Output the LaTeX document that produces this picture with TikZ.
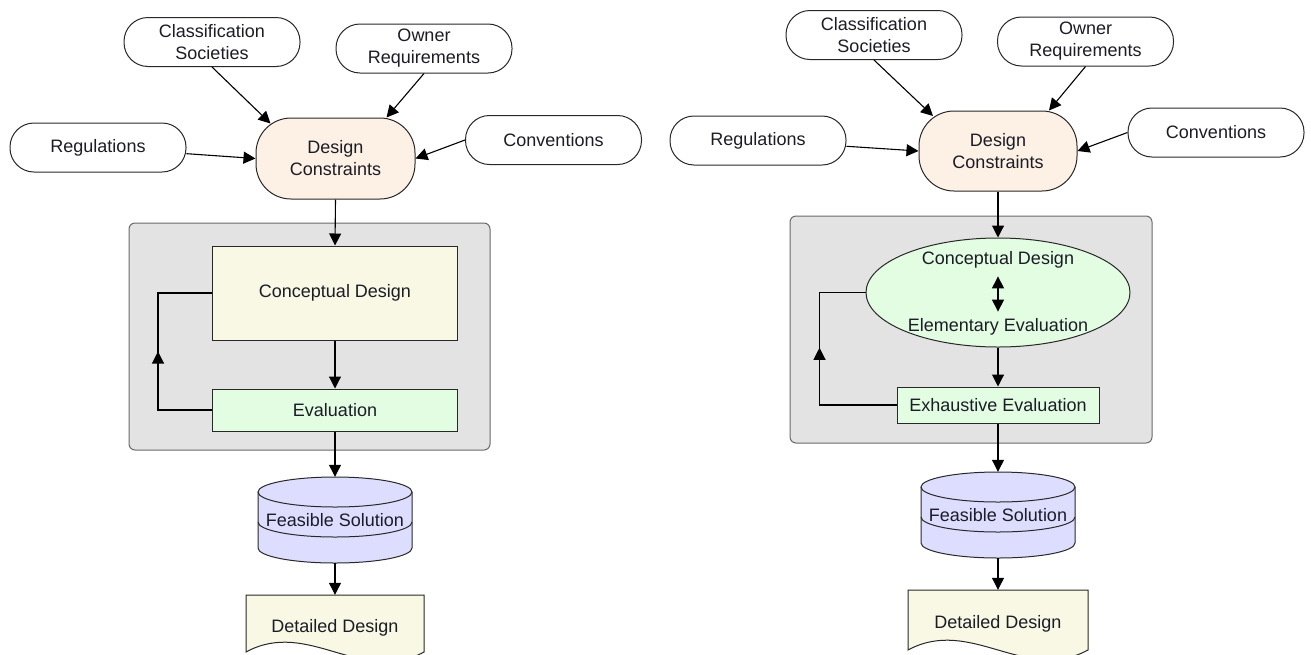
\documentclass[tikz,border=0pt]{standalone}
\usepackage{fontspec}
\setmainfont{Liberation Sans}
\usetikzlibrary{arrows.meta,calc,decorations.markings,shapes.geometric}
\definecolor{txt}{RGB}{28,28,38}
\definecolor{edge}{RGB}{40,40,40}
\definecolor{peach}{RGB}{253,240,228}
\definecolor{paleyellow}{RGB}{248,248,228}
\definecolor{palegreen}{RGB}{226,253,226}
\definecolor{boxgray}{RGB}{227,227,227}
\definecolor{boxedge}{RGB}{105,105,105}
\definecolor{lavender}{RGB}{221,221,255}
\newcommand\cylshape[2]{%
  \fill[lavender] (#1-77,#2+15) -- (#1-77,#2+71) arc[start angle=180,end angle=0,x radius=77,y radius=15]
     -- (#1+77,#2+15) arc[start angle=0,end angle=-180,x radius=77,y radius=15] -- cycle;
  \draw[shapeline] (#1,#2+15) ellipse[x radius=77,y radius=15];
  \draw[shapeline] (#1-77,#2+15) -- (#1-77,#2+71) arc[start angle=180,end angle=0,x radius=77,y radius=15] -- (#1+77,#2+15);
  \draw[shapeline] (#1-77,#2+45) arc[start angle=180,end angle=0,x radius=77,y radius=15];
}
\newcommand\docshape[4]{%
  \filldraw[shapeline,fill=paleyellow] (#1,#3) -- (#2,#3) -- (#2,#4)
     .. controls ({#1+0.65*(#2-#1)},{#4+34}) and ({#1+0.35*(#2-#1)},{#4-34}) .. (#1,#4) -- cycle;
}
\begin{document}
\begin{tikzpicture}[x=1pt,y=-1pt,
  >={Triangle[length=12pt,width=12pt]},
  every node/.style={font=\fontsize{18}{22}\selectfont,text=txt},
  shapeline/.style={draw=edge,line width=1pt},
  src/.style={shapeline,fill=white,rounded corners=24pt,minimum width=176pt,minimum height=49pt,inner sep=0pt,align=center},
  dcbox/.style={shapeline,fill=peach,rounded corners=35pt,minimum width=159pt,minimum height=81pt,inner sep=0pt,align=center},
  group/.style={draw=boxedge,line width=1pt,fill=boxgray,rounded corners=6pt,inner sep=0pt},
  cdbox/.style={shapeline,fill=paleyellow,minimum width=245pt,minimum height=94pt,inner sep=0pt},
  evbox/.style={shapeline,fill=palegreen,inner sep=0pt},
  plain/.style={inner sep=0pt},
  arr/.style={->,line width=1.1pt,draw=black},
  loopline/.style={line width=1.1pt,draw=black,postaction={decorate}},
]
\useasboundingbox (0,0) rectangle (1311,654);
\clip (0,0) rectangle (1311,654);

% ================= LEFT DIAGRAM =================
\node[group,minimum width=361pt,minimum height=227pt] (g1) at (309.5,336.5) {};
\node[src] (cs1) at (212,42) {Classification\\Societies};
\node[src] (ow1) at (424,48.5) {Owner\\Requirements};
\node[src] (rg1) at (98,147.5) {Regulations};
\node[src] (cv1) at (553.5,140) {Conventions};
\node[dcbox] (dc1) at (335.5,158.5) {Design\\Constraints};
\node[cdbox] (cd1) at (335,293) {Conceptual Design};
\node[evbox,minimum width=245pt,minimum height=42pt] (ev1) at (335,410) {Evaluation};
\cylshape{335}{477}
\node[plain,minimum width=154pt,minimum height=86pt] (fs1) at (335,520) {Feasible Solution};
\docshape{246}{424}{595}{652}
\node[plain,minimum width=178pt,minimum height=66pt] (dd1) at (335,628) {};
\node[plain] (ddt1) at (335,628) {Detailed Design};

\draw[arr] (cs1.south) -- ($(dc1.center)+(-65,-35)$);
\draw[arr] (ow1.south) -- ($(dc1.north)+(51,0)$);
\draw[arr] (rg1) -- (dc1.west);
\draw[arr] (cv1.west) -- (dc1.east);
\draw[arr] (dc1.south) -- (cd1.north);
\draw[arr] (cd1.south) -- (ev1.north);
\draw[arr] (ev1.south) -- (fs1.north);
\draw[arr] (fs1.south) -- (dd1.north);
\draw[loopline,decoration={markings,mark=at position 0.5 with {\arrow{>}}}]
  (ev1.west) -- ++(-54,0) |- (cd1.west);

% ================= RIGHT DIAGRAM =================
\node[group,minimum width=362pt,minimum height=227pt] (g2) at (971,329.5) {};
\node[src] (cs2) at (874,35) {Classification\\Societies};
\node[src] (ow2) at (1085.5,41.5) {Owner\\Requirements};
\node[src] (rg2) at (758,140.5) {Regulations};
\node[src] (cv2) at (1216,132.5) {Conventions};
\node[dcbox,minimum width=158pt,minimum height=80pt] (dc2) at (998,151) {Design\\Constraints};
\node[shapeline,fill=palegreen,ellipse,minimum width=264pt,minimum height=109pt,inner sep=0pt] (el2) at (998,292.5) {};
\node[plain,inner sep=5.8pt] (cdt2) at (998,260) {Conceptual Design};
\node[plain,inner sep=5.8pt] (eet2) at (998,327) {Elementary Evaluation};
\node[evbox,minimum width=202pt,minimum height=36pt] (ex2) at (998,405) {Exhaustive Evaluation};
\cylshape{998}{472}
\node[plain,minimum width=154pt,minimum height=86pt] (fs2) at (998,515) {Feasible Solution};
\docshape{908}{1088}{590}{650}
\node[plain,minimum width=180pt,minimum height=68pt] (dd2) at (998,624) {};
\node[plain] (ddt2) at (998,624) {Detailed Design};

\draw[arr] (cs2.south) -- ($(dc2.center)+(-65,-35)$);
\draw[arr] (ow2.south) -- ($(dc2.north)+(51,0)$);
\draw[arr] (rg2) -- (dc2.west);
\draw[arr] (cv2.west) -- (dc2.east);
\draw[arr] (dc2.south) -- (el2.north);
\draw[<->,line width=1.1pt,shorten <=2pt,shorten >=1pt] (cdt2.south) -- (eet2.north);
\draw[arr] (el2.south) -- (ex2.north);
\draw[arr] (ex2.south) -- (fs2.north);
\draw[arr] (fs2.south) -- (dd2.north);
\draw[loopline,decoration={markings,mark=at position 0.57 with {\arrow{>}}}]
  (ex2.west) -- ++(-77,0) |- (el2.west);
\end{tikzpicture}
\end{document}
